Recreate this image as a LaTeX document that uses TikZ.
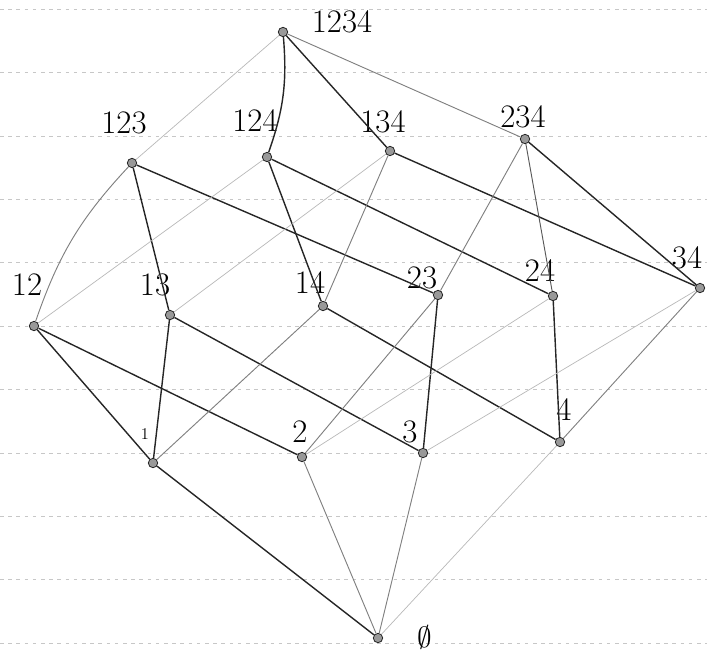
\documentclass[tikz,border=0pt]{standalone}
\usepackage{amssymb}
\usepackage{tikz}
\usetikzlibrary{positioning}

\begin{document}
\begin{tikzpicture}[
  x=0.03cm, y=-0.03cm,
  vertex/.style={circle, draw=black!85, fill=black!40, line width=0.7pt, inner sep=0pt, minimum size=8pt},
  setlabel/.style={font=\fontsize{28}{30}\selectfont, inner sep=0pt},
  strong/.style={draw=black!85, line width=1.2pt},
  faint/.style={draw=black!50, line width=0.8pt},
  pale/.style={draw=black!28, line width=0.6pt},
  ruling/.style={draw=black!22, dash pattern=on 3pt off 4pt, line width=0.5pt}
]
\useasboundingbox (0,0) rectangle (707,660);

% notebook rulings
\foreach \k in {0,...,10}
  \draw[ruling] (0,{9+63.4*\k}) -- (707,{9+63.4*\k});

% vertices
\node[vertex] (n1234) at (283,32) {};
\node[vertex] (n123) at (132,163) {};
\node[vertex] (n124) at (267,157) {};
\node[vertex] (n134) at (390,151) {};
\node[vertex] (n234) at (525,139) {};
\node[vertex] (n12) at (34,326) {};
\node[vertex] (n13) at (170,315) {};
\node[vertex] (n14) at (323,306) {};
\node[vertex] (n23) at (438,295) {};
\node[vertex] (n24) at (553,296) {};
\node[vertex] (n34) at (700,288) {};
\node[vertex] (n1) at (153,463) {};
\node[vertex] (n2) at (302,457) {};
\node[vertex] (n3) at (423,453) {};
\node[vertex] (n4) at (560,442) {};
\node[vertex] (n0) at (378,638) {};

% labels
\node[setlabel] (l1234) at (342,22) {1234};
\node[setlabel] (l123) at (124,123) {123};
\node[setlabel] (l124) at (255,121) {124};
\node[setlabel] (l134) at (383,122) {134};
\node[setlabel] (l234) at (523,117) {234};
\node[setlabel] (l12) at (27,285) {12};
\node[setlabel] (l13) at (155,285) {13};
\node[setlabel] (l14) at (310,283) {14};
\node[setlabel] (l23) at (422,278) {23};
\node[setlabel] (l24) at (540,271) {24};
\node[setlabel] (l34) at (687,258) {34};
\node[setlabel, font=\fontsize{14}{16}\selectfont] (l1) at (145,434) {1};
\node[setlabel] (l2) at (300,432) {2};
\node[setlabel] (l3) at (410,432) {3};
\node[setlabel] (l4) at (564,410) {4};
\node[setlabel] (l0) at (425,637) {$\emptyset$};

% covering relations
\foreach \a/\b in {n124/n14, n123/n13, n123/n23, n124/n24, n134/n34, n234/n34,
                   n12/n1, n12/n2, n13/n1, n13/n3, n14/n4, n23/n3, n24/n4, n0/n1,
                   n1234/n134}
  \draw[strong] (\a) -- (\b);
\draw[strong] (n1234) to[bend left=12] (n124);
\foreach \a/\b in {n1234/n234, n134/n14, n234/n23,
                   n14/n1, n23/n2, n34/n4, n0/n2, n0/n3}
  \draw[faint] (\a) -- (\b);
\draw[faint, draw=black!65] (n234) -- (n24);
\draw[faint] (n123) to[bend right=12] (n12);
\foreach \a/\b in {n1234/n123, n124/n12, n134/n13, n24/n2, n34/n3, n0/n4}
  \draw[pale] (\a) -- (\b);
\end{tikzpicture}
\end{document}
